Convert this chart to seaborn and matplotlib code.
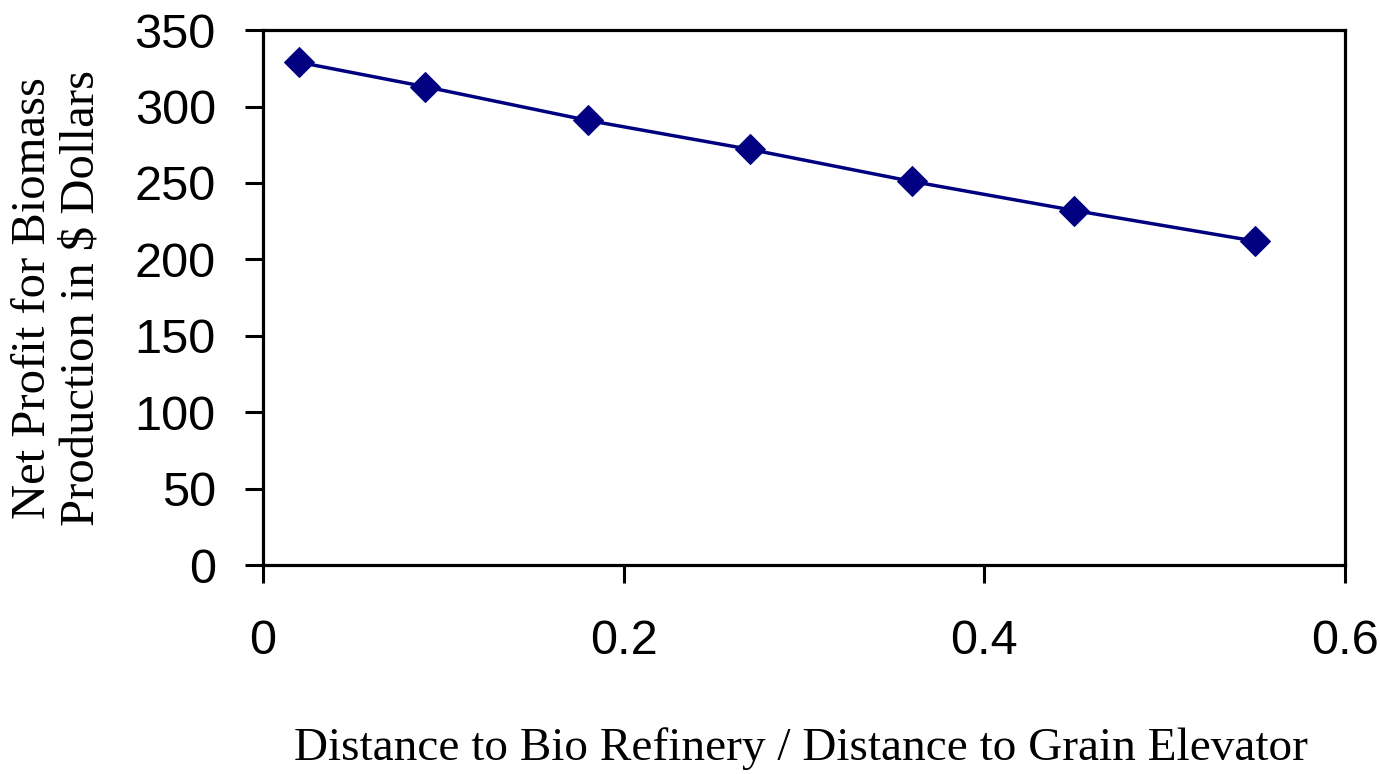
import matplotlib
matplotlib.use("Agg")
import matplotlib.pyplot as plt
import seaborn as sns
import pandas as pd

ratio = [0.02, 0.09, 0.18, 0.27, 0.36, 0.45, 0.55]
profit = [329, 313, 291, 272, 251, 232, 212]
xticks = [0, 0.2, 0.4, 0.6]
xticklabels = ["0", "0.2", "0.4", "0.6"]
yticks = [0, 50, 100, 150, 200, 250, 300, 350]

sns.set_style("ticks")
df = pd.DataFrame({"ratio": ratio, "profit": profit})

fig = plt.figure(figsize=(13.8, 7.74), dpi=100)
ax = fig.add_axes([0.1906, 0.270, 0.784, 0.691])
sns.lineplot(data=df, x="ratio", y="profit", ax=ax, color="#000080",
             marker="D", markersize=15, linewidth=2.5, markeredgecolor="#000080")
ax.set_xlim(0, 0.6)
ax.set_ylim(0, 350)
ax.set_xticks(xticks)
ax.set_xticklabels(xticklabels)
ax.set_yticks(yticks)
for s in ax.spines.values():
    s.set_visible(True)
    s.set_linewidth(2.3)
    s.set_color("black")
ax.tick_params(axis="both", direction="out", length=13, width=2.2, color="black",
               labelsize=35, labelcolor="black")
ax.tick_params(axis="x", pad=26)
ax.tick_params(axis="y", pad=21)
for lab in ax.get_xticklabels() + ax.get_yticklabels():
    lab.set_fontfamily("Liberation Sans")
ax.set_xlabel("")
ax.set_ylabel("")
fig.text(0.5806, 0.018, "Distance to Bio Refinery / Distance to Grain Elevator",
         fontfamily="Liberation Serif", fontsize=34, ha="center", va="baseline",
         color="black")
fig.text(0.0415, 0.615, "Net Profit for Biomass\nProduction in $ Dollars",
         fontfamily="Liberation Serif", fontsize=35, ha="center", va="center",
         rotation=90, multialignment="center", linespacing=1.15, color="black")
fig.savefig("out.png", dpi=100)
